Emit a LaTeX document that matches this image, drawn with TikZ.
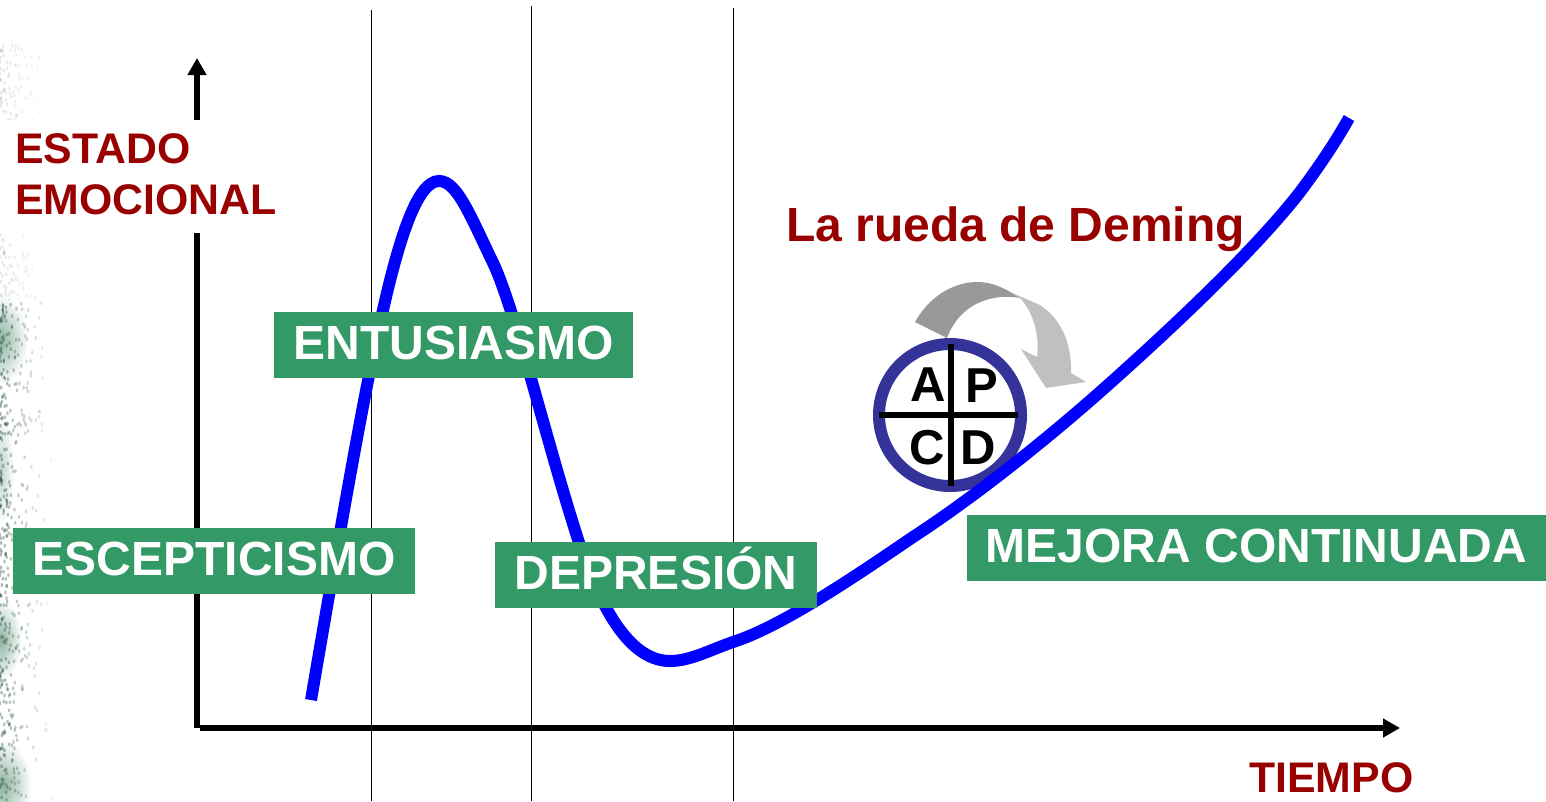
\documentclass[tikz,border=0pt]{standalone}
\usepackage{fontspec}
\setmainfont{Liberation Sans}
\usetikzlibrary{arrows.meta}
\definecolor{etapa}{HTML}{339966}
\definecolor{rotulo}{HTML}{990000}
\definecolor{aro}{HTML}{333399}
\definecolor{curva}{HTML}{0000FF}
\definecolor{flechaA}{HTML}{999999}
\definecolor{flechaB}{HTML}{C0C0C0}
\definecolor{mancha}{HTML}{3F7F62}
\tikzset{
  etapabox/.style={fill=etapa, text=white, inner sep=0pt, minimum height=66pt,
    text height=28pt, text depth=0pt, font=\bfseries\fontsize{48}{48}\selectfont},
  rotulotxt/.style={text=rotulo, inner sep=0pt, font=\bfseries\fontsize{42.8}{51}\selectfont},
  letra/.style={inner sep=0pt, font=\bfseries\fontsize{49}{49}\selectfont},
  guia/.style={black, line width=1pt},
  eje/.style={black, line width=5.5pt, -{Triangle[length=17pt,width=18pt]}},
  borron/.style={inner color=mancha, outer color=white, opacity=.6},
}
\begin{document}
\begin{tikzpicture}[x=1pt, y=-1pt]
  \useasboundingbox (0,0) rectangle (1546,801);
  % manchas del fondo
  \shade[borron] (0,340) ellipse (28pt and 45pt);
  \shade[borron, opacity=.35] (0,470) ellipse (14pt and 55pt);
  \shade[borron] (0,640) ellipse (22pt and 40pt);
  \shade[borron] (2,785) ellipse (30pt and 45pt);
  \pgfmathsetseed{27}
  \foreach \i in {1,...,700} {
    \pgfmathsetmacro{\mx}{55*rnd*rnd}
    \pgfmathsetmacro{\my}{45+755*rnd}
    \pgfmathsetmacro{\mo}{(\my>300 ? 0.4 : 0.12)*(1-\mx/60)}
    \fill[mancha!60!black, opacity=\mo] (\mx,\my) ellipse (1.2pt and 2pt);
  }
  % lineas verticales
  \coordinate (g1a) at (371,10);  \coordinate (g1b) at (371,801);
  \coordinate (g2a) at (531,6);   \coordinate (g2b) at (531,801);
  \coordinate (g3a) at (733,8);   \coordinate (g3b) at (733,801);
  \draw[guia] (g1a) -- (g1b);
  \draw[guia] (g2a) -- (g2b);
  \draw[guia] (g3a) -- (g3b);
  % ejes
  \coordinate (O) at (197,728);
  \coordinate (Y) at (197,58);
  \coordinate (X) at (1400,728);
  \coordinate (Xs) at (200,728);
  \draw[eje] (O) -- (Y);
  \draw[eje] (Xs) -- (X);
  \node[fill=white, anchor=north west, minimum width=285pt, minimum height=113pt,
    inner sep=0pt] (blanco) at (0,120) {};
  \node[rotulotxt, align=left, anchor=west] (estado) at (15,174.5) {ESTADO\\EMOCIONAL};
  \node[rotulotxt, anchor=base west] (tiempo) at (1249,792) {TIEMPO};
  \node[rotulotxt, anchor=base west, font=\bfseries\fontsize{48}{48}\selectfont]
    (deming) at (786,241) {La rueda de Deming};
  % flechas de la rueda
  \fill[flechaA] (915,322) .. controls (930,295) and (955,282) .. (977,282)
    .. controls (992,282) and (1003,287) .. (1020,298)
    .. controls (1000,294) and (962,298) .. (947,338) -- cycle;
  \fill[flechaB] (1010,292) -- (1040,305) .. controls (1060,318) and (1072,342) .. (1071,373)
    -- (1086,382) -- (1046,388) -- (1021,349) -- (1037,357)
    .. controls (1040,335) and (1033,312) .. (1020,298) -- cycle;
  % rueda
  \coordinate (R) at (950,415);
  \draw[aro, line width=12pt, fill=white] (R) circle (71pt);
  \draw[black, line width=6pt] (951,344) -- (951,486);
  \draw[black, line width=6pt] (879,415) -- (1018,415);
  \node[letra] (a) at (928,385) {A};
  \node[letra] (p) at (982,386) {P};
  \node[letra] (c) at (927,448) {C};
  \node[letra] (d) at (978,448) {D};
  % curva
  \draw[curva, line width=12pt] (311,700)
    .. controls (335,560) and (365,385) .. (383,310)
    .. controls (400,235) and (418,181) .. (439,181)
    .. controls (457,181) and (470,215) .. (495,267)
    .. controls (517,318) and (545,435) .. (575,530)
    .. controls (595,595) and (625,661) .. (670,661)
    .. controls (690,661) and (710,650) .. (733,642)
    .. controls (780,627) and (850,580) .. (913,537)
    .. controls (970,500) and (1040,445) .. (1100,392)
    .. controls (1170,330) and (1255,250) .. (1300,192)
    .. controls (1318,168) and (1335,143) .. (1349,118);
  % etapas
  \node[etapabox, minimum width=359pt] (entusiasmo) at (453.5,345) {ENTUSIASMO};
  \node[etapabox, minimum width=402pt] (escepticismo) at (214,561) {ESCEPTICISMO};
  \node[etapabox, minimum width=322pt] (depresion) at (656,575) {DEPRESIÓN};
  \node[etapabox, minimum width=579pt] (mejora) at (1256.5,548) {MEJORA CONTINUADA};
\end{tikzpicture}
\end{document}
